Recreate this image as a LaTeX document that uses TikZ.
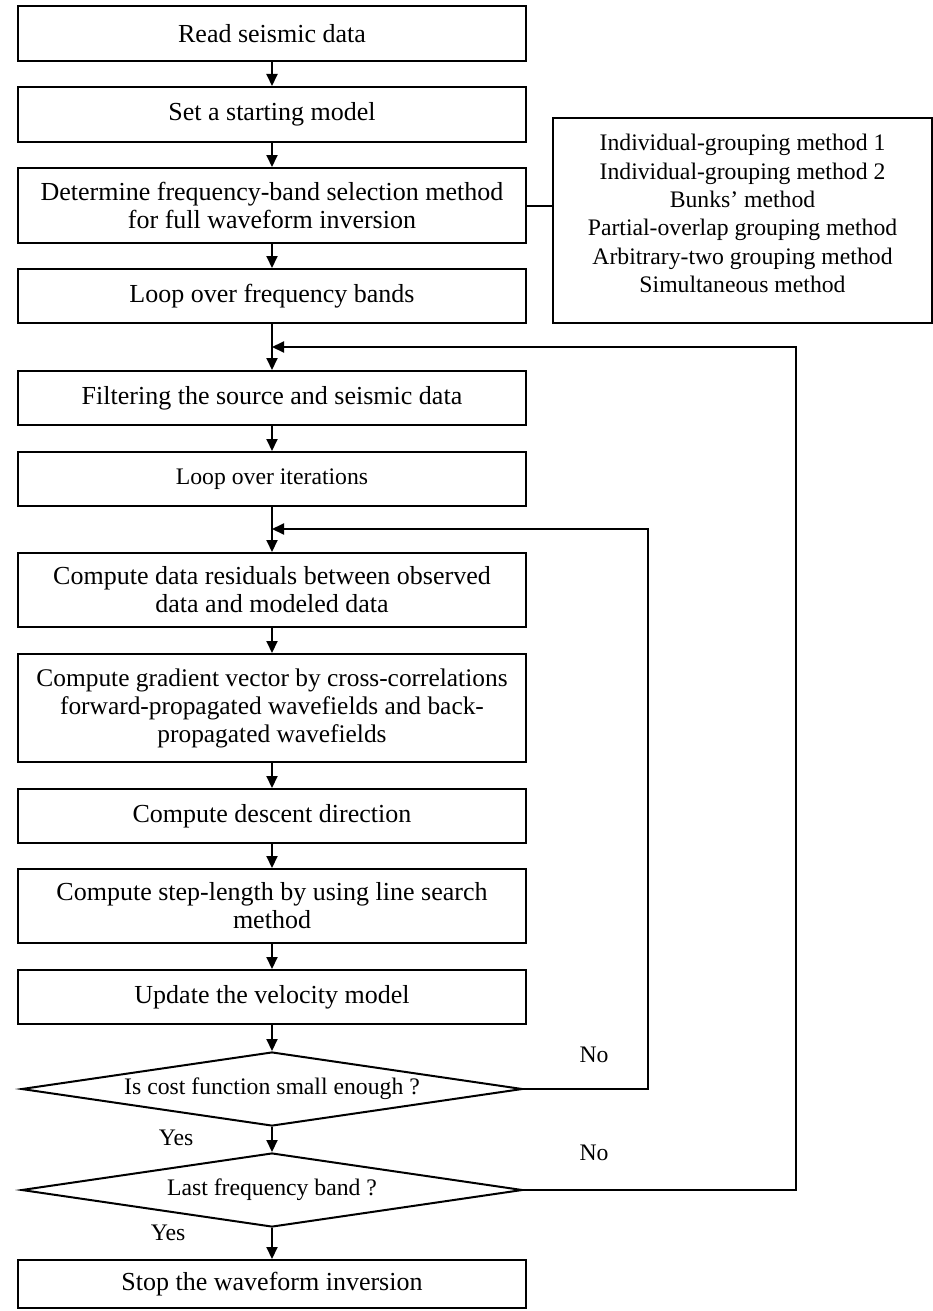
\documentclass[tikz,border=0pt]{standalone}
\usepackage{fontspec}
\setmainfont{Liberation Serif}
\usetikzlibrary{arrows.meta,shapes.geometric}
\begin{document}
\begin{tikzpicture}[x=1pt,y=-1pt,
  line width=2pt,
  box/.style={draw, rectangle, minimum width=508pt, inner sep=0pt, align=center, font=\fontsize{26}{28}\selectfont},
  smalltext/.style={font=\fontsize{23.7}{28.3}\selectfont},
  dec/.style={draw, diamond, minimum width=501pt, minimum height=74pt, inner sep=0pt, aspect=6.77, font=\fontsize{23.7}{28}\selectfont},
  arr/.style={-{Triangle[length=12pt,width=11pt]}},
  lbl/.style={font=\fontsize{23.7}{28}\selectfont, inner sep=0pt}]
\useasboundingbox (0,0) rectangle (933,1311);
\node[box, minimum height=55pt] (b1) at (272,33.5) {Read seismic data};
\node[box, minimum height=55pt] (b2) at (272,114.5) {Set a starting model};
\node[box, minimum height=75pt] (b3) at (272,205.5) {Determine frequency-band selection method\\for full waveform inversion};
\node[box, minimum height=54pt] (b4) at (272,296) {Loop over frequency bands};
\node[draw, rectangle, minimum width=379pt, minimum height=205pt, inner sep=0pt, align=center, smalltext] (rb) at (742.5,220.5) {Individual-grouping method 1\\Individual-grouping method 2\\Bunks’ method\\Partial-overlap grouping method\\Arbitrary-two grouping method\\Simultaneous method\\[-14pt]};
\node[box, minimum height=54pt] (b5) at (272,398) {Filtering the source and seismic data};
\node[box, minimum height=54pt, smalltext] (b6) at (272,479) {Loop over iterations};
\node[box, minimum height=74pt] (b7) at (272,590) {Compute data residuals between observed\\data and modeled data};
\node[box, minimum height=108pt, font=\fontsize{25.4}{28}\selectfont] (b8) at (272,708) {Compute gradient vector by cross-correlations\\forward-propagated wavefields and back-\\propagated wavefields};
\node[box, minimum height=54pt] (b9) at (272,816) {Compute descent direction};
\node[box, minimum height=74pt] (b10) at (272,906) {Compute step-length by using line search\\method};
\node[box, minimum height=54pt] (b11) at (272,997) {Update the velocity model};
\node[dec] (d1) at (272,1089) {Is cost function small enough ?};
\node[dec] (d2) at (272,1190) {Last frequency band ?};
\node[box, minimum height=48pt] (b12) at (272,1284) {Stop the waveform inversion};
\node[lbl] (no1) at (594,1055) {No};
\node[lbl] (no2) at (594,1153) {No};
\node[lbl] (yes1) at (176,1138) {Yes};
\node[lbl] (yes2) at (168,1233) {Yes};
\coordinate (m1) at (272,347);
\coordinate (m2) at (272,529);
\coordinate (c1) at (796,347);
\coordinate (c2) at (648,529);
\draw[arr] (b1.south) -- (b2.north);
\draw[arr] (b2.south) -- (b3.north);
\draw[arr] (b3.south) -- (b4.north);
\draw[arr] (b4.south) -- (b5.north);
\draw[arr] (b5.south) -- (b6.north);
\draw[arr] (b6.south) -- (b7.north);
\draw[arr] (b7.south) -- (b8.north);
\draw[arr] (b8.south) -- (b9.north);
\draw[arr] (b9.south) -- (b10.north);
\draw[arr] (b10.south) -- (b11.north);
\draw[arr] (b11.south) -- (d1.north);
\draw[arr] (d1.south) -- (d2.north);
\draw[arr] (d2.south) -- (b12.north);
\draw (b3.east) -- (b3.east -| rb.west);
\draw[arr] (d2.east) -| (c1) -- (m1);
\draw[arr] (d1.east) -| (c2) -- (m2);
\end{tikzpicture}
\end{document}
